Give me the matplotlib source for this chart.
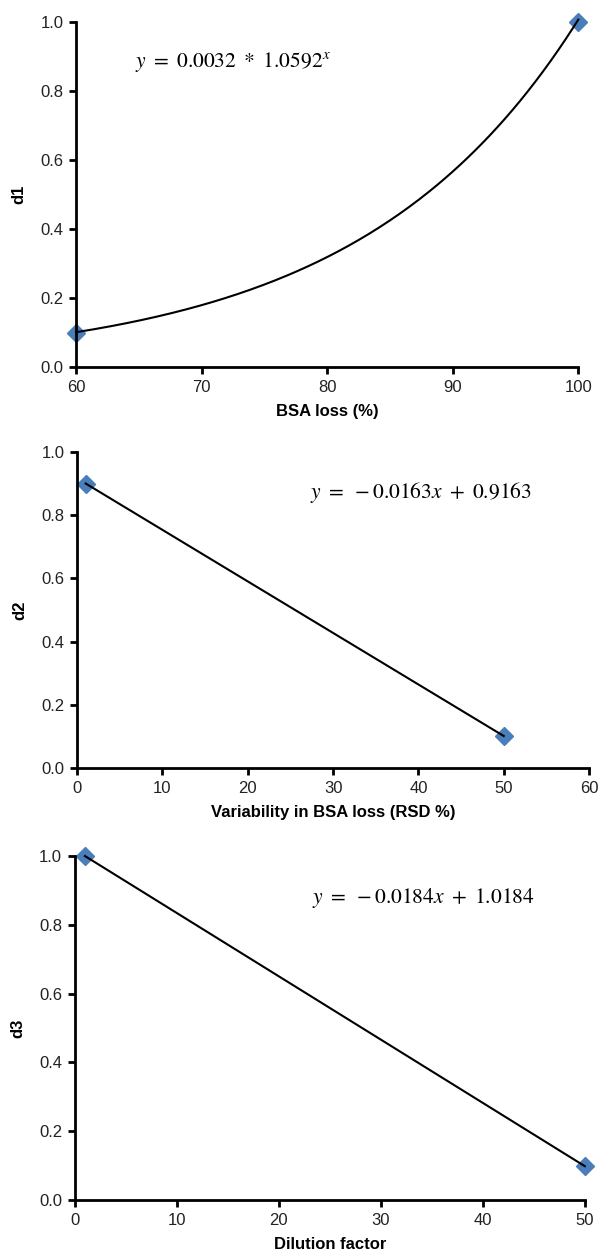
import numpy as np
import matplotlib
matplotlib.use('Agg')
import matplotlib.pyplot as plt

plt.rcParams['font.family'] = ['Liberation Sans', 'DejaVu Sans']
plt.rcParams['mathtext.fontset'] = 'stix'

# panel 1: d1 vs BSA loss, exponential fit
x1 = [60, 100]
y1 = [0.1, 1.0]
a1, b1 = 0.0032, 1.0592

# panel 2: d2 vs variability
x2 = [1, 50]
y2 = [0.9, 0.1]
m2, c2 = -0.0163, 0.9163

# panel 3: d3 vs dilution factor
x3 = [1, 50]
y3 = [1.0, 0.1]
m3, c3 = -0.0184, 1.0184

blue = '#4a7ebb'
fs = 12
efs = 15.5

fig = plt.figure(figsize=(5.98, 12.57), dpi=100)
ax1 = fig.add_axes([0.127, 0.708, 0.840, 0.2745])
ax2 = fig.add_axes([0.129, 0.389, 0.856, 0.2515])
ax3 = fig.add_axes([0.125, 0.0453, 0.853, 0.2737])


def style(ax, xlim, xticks, xlabel, ylabel):
    ax.set_xlim(*xlim)
    ax.set_ylim(0, 1.0)
    ax.set_xticks(xticks)
    ax.set_yticks(np.arange(0, 1.01, 0.2))
    ax.set_yticklabels(['%.1f' % v for v in np.arange(0, 1.01, 0.2)])
    for s in ['top', 'right']:
        ax.spines[s].set_visible(False)
    for s in ['left', 'bottom']:
        ax.spines[s].set_linewidth(2)
    ax.tick_params(direction='out', length=5, width=2, labelsize=fs, colors='black', pad=4)
    ax.tick_params(labelcolor='#222222')
    ax.set_xlabel(xlabel, fontsize=fs, fontweight='bold', labelpad=7)
    ax.set_ylabel(ylabel, fontsize=fs, fontweight='bold', labelpad=10)
    for sp in ax.spines.values():
        sp.set_clip_on(False)


# panel 1
xx = np.linspace(60, 100, 200)
ax1.plot(xx, a1 * b1 ** xx, color='black', lw=1.5, zorder=3, clip_on=False)
ax1.plot(x1, y1, 'D', color=blue, ms=9, zorder=2, clip_on=False)
ax1.text(64.7, 0.884, r'$y\ =\ 0.0032\ *\ 1.0592^{x}$', fontsize=efs, va='center')
style(ax1, (60, 100), [60, 70, 80, 90, 100], 'BSA loss (%)', 'd1')

# panel 2
xx = np.array(x2, dtype=float)
ax2.plot(xx, m2 * xx + c2, color='black', lw=1.5, zorder=3, clip_on=False)
ax2.plot(x2, y2, 'D', color=blue, ms=9, zorder=2, clip_on=False)
ax2.text(27.3, 0.87, r'$y\ =\ -0.0163x\ +\ 0.9163$', fontsize=efs, va='center')
style(ax2, (0, 60), [0, 10, 20, 30, 40, 50, 60], 'Variability in BSA loss (RSD %)', 'd2')

# panel 3
xx = np.array(x3, dtype=float)
ax3.plot(xx, m3 * xx + c3, color='black', lw=1.5, zorder=3, clip_on=False)
ax3.plot(x3, y3, 'D', color=blue, ms=9, zorder=2, clip_on=False)
ax3.text(23.3, 0.878, r'$y\ =\ -0.0184x\ +\ 1.0184$', fontsize=efs, va='center')
style(ax3, (0, 50), [0, 10, 20, 30, 40, 50], 'Dilution factor', 'd3')

fig.savefig('out.png', dpi=100)
